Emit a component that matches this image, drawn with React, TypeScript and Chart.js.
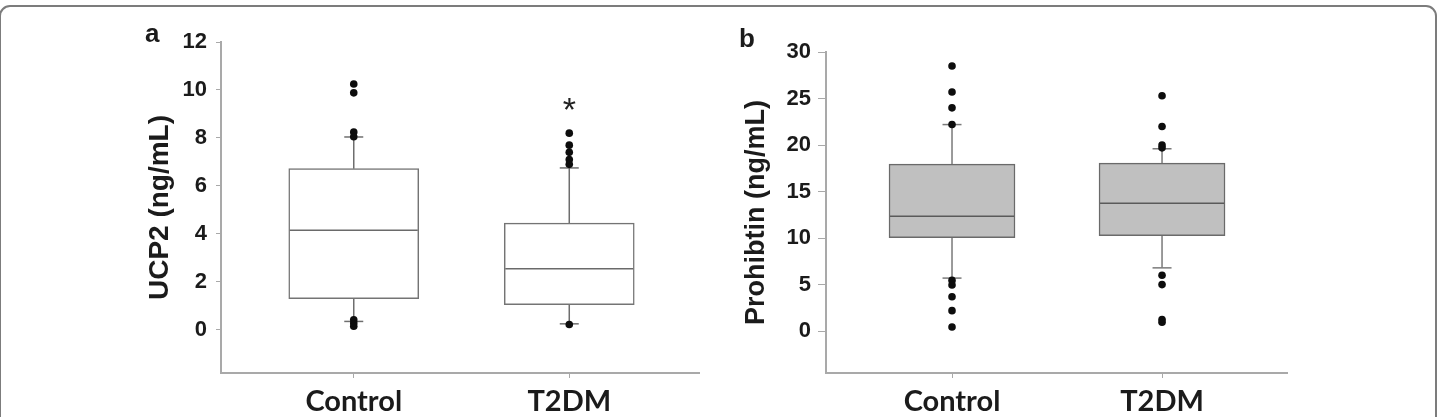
import React, { useEffect, useRef } from 'react';
import { Chart, registerables } from 'chart.js';

Chart.register(...registerables);

// ---------- shared ----------
const categories = ['Control', 'T2DM'];
const categoryX = [1, 2];

// ---------- panel a : UCP2 ----------
const ucp2Q1 = [1.3, 1.05];
const ucp2Median = [4.15, 2.55];
const ucp2Q3 = [6.72, 4.45];
const ucp2WhiskerLow = [0.35, 0.25];
const ucp2WhiskerHigh = [8.04, 6.75];
const ucp2OutliersControl = [10.25, 9.88, 8.25, 8.05, 0.42, 0.28, 0.15];
const ucp2OutliersT2DM = [8.2, 7.7, 7.4, 7.1, 6.9, 0.22];
const ucp2YTicks = [0, 2, 4, 6, 8, 10, 12];
const ucp2YRange = [-1.8, 12];
const ucp2Significance = [{ category: 2, y: 9.5, text: '*' }];

// ---------- panel b : Prohibtin ----------
const prohibQ1 = [10.05, 10.25];
const prohibMedian = [12.35, 13.75];
const prohibQ3 = [17.95, 18.05];
const prohibWhiskerLow = [5.7, 6.8];
const prohibWhiskerHigh = [22.2, 19.6];
const prohibOutliersControl = [28.5, 25.7, 24.0, 22.2, 5.45, 4.95, 3.7, 2.2, 0.45];
const prohibOutliersT2DM = [25.3, 22.0, 20.0, 19.7, 6.0, 5.0, 1.25, 0.95];
const prohibYTicks = [0, 5, 10, 15, 20, 25, 30];
const prohibYRange = [-4.5, 30];
const prohibSignificance: { category: number; y: number; text: string }[] = [];

type PanelCfg = {
  left: number;
  width: number;
  q1: number[];
  median: number[];
  q3: number[];
  lo: number[];
  hi: number[];
  outliers: number[][];
  yTicks: number[];
  yRange: number[];
  xRange: number[];
  sig: { category: number; y: number; text: string }[];
  title: string;
  titleSize: number;
  boxFill: string;
  boxBorder: string;
  medianColor: string;
  whiskerColor: string;
  boxPx: number;
  padding: { top: number; right: number; bottom: number; left: number };
  yAxisWidth: number;
  titleOffset: number;
  yTickLength: number;
  yTickPadding: number;
};

const AXIS_COLOR = '#a9a9a9';
const TEXT_COLOR = '#1b1b1b';

const panels: PanelCfg[] = [
  {
    left: 0,
    width: 720,
    q1: ucp2Q1,
    median: ucp2Median,
    q3: ucp2Q3,
    lo: ucp2WhiskerLow,
    hi: ucp2WhiskerHigh,
    outliers: [ucp2OutliersControl, ucp2OutliersT2DM],
    yTicks: ucp2YTicks,
    yRange: ucp2YRange,
    xRange: [0.384, 2.602],
    sig: ucp2Significance,
    title: 'UCP2 (ng/mL)',
    titleSize: 28,
    boxFill: '#ffffff',
    boxBorder: '#747474',
    medianColor: '#6a6a6a',
    whiskerColor: '#6e6e6e',
    boxPx: 130,
    padding: { top: 42, right: 21, bottom: 0, left: 0 },
    yAxisWidth: 221,
    titleOffset: 160,
    yTickLength: 5,
    yTickPadding: 9,
  },
  {
    left: 720,
    width: 720,
    q1: prohibQ1,
    median: prohibMedian,
    q3: prohibQ3,
    lo: prohibWhiskerLow,
    hi: prohibWhiskerHigh,
    outliers: [prohibOutliersControl, prohibOutliersT2DM],
    yTicks: prohibYTicks,
    yRange: prohibYRange,
    xRange: [0.4, 2.595],
    sig: prohibSignificance,
    title: 'Prohibtin (ng/mL)',
    titleSize: 27,
    boxFill: '#c0c0c0',
    boxBorder: '#6a6a6a',
    medianColor: '#5a5a5a',
    whiskerColor: '#7a7a7a',
    boxPx: 126,
    padding: { top: 52, right: 153, bottom: 0, left: 0 },
    yAxisWidth: 106,
    titleOffset: 37,
    yTickLength: 8,
    yTickPadding: 7,
  },
];

const CANVAS_H = 417;
const X_AXIS_H = 44;

const significancePlugin = {
  id: 'significance',
  afterDatasetsDraw(chart: any, _args: any, opts: any) {
    const items = opts && opts.items ? opts.items : [];
    const ctx = chart.ctx;
    const xs = chart.scales.x;
    const ys = chart.scales.y;
    ctx.save();
    ctx.fillStyle = '#222';
    ctx.font = '34px "Liberation Sans", Arial, sans-serif';
    ctx.textAlign = 'center';
    ctx.textBaseline = 'alphabetic';
    items.forEach((it: any) => {
      const px = xs.getPixelForValue(it.category);
      const py = ys.getPixelForValue(it.y);
      ctx.fillText(it.text, px, py + 19);
    });
    ctx.restore();
  },
};

function BoxPanel({ cfg }: { cfg: PanelCfg }) {
  const ref = useRef<HTMLCanvasElement>(null);

  useEffect(() => {
    if (!ref.current) return;
    const boxData = categoryX.map((x, i) => ({ x, y: [cfg.q1[i], cfg.q3[i]] }));
    const medianData = categoryX.map((x, i) => ({ x, y: cfg.median[i] }));
    const whiskerData: any[] = [];
    categoryX.forEach((x, i) => {
      whiskerData.push({ x, y: cfg.q3[i] }, { x, y: cfg.hi[i] }, { x, y: null });
      whiskerData.push({ x, y: cfg.q1[i] }, { x, y: cfg.lo[i] }, { x, y: null });
    });
    const capData: any[] = [];
    categoryX.forEach((x, i) => {
      capData.push({ x, y: cfg.hi[i] }, { x, y: cfg.lo[i] });
    });
    const outlierData: any[] = [];
    categoryX.forEach((x, i) => {
      cfg.outliers[i].forEach((v) => outlierData.push({ x, y: v }));
    });

    const chart = new Chart(ref.current, {
      type: 'bar',
      data: {
        datasets: [
          {
            type: 'line',
            label: 'whiskers',
            data: whiskerData,
            borderColor: cfg.whiskerColor,
            borderWidth: 1.5,
            pointRadius: 0,
            spanGaps: false,
            order: 4,
          } as any,
          {
            type: 'bar',
            label: 'box',
            data: boxData,
            backgroundColor: cfg.boxFill,
            borderColor: cfg.boxBorder,
            borderWidth: 1.5,
            borderSkipped: false,
            barThickness: cfg.boxPx,
            grouped: false,
            order: 3,
          } as any,
          {
            type: 'scatter',
            label: 'median',
            data: medianData,
            pointStyle: 'line',
            pointRadius: cfg.boxPx / 2 - 1,
            borderColor: cfg.medianColor,
            borderWidth: 1.5,
            order: 2,
          } as any,
          {
            type: 'scatter',
            label: 'caps',
            data: capData,
            pointStyle: 'line',
            pointRadius: 9.5,
            borderColor: cfg.whiskerColor,
            borderWidth: 1.5,
            order: 2,
          } as any,
          {
            type: 'scatter',
            label: 'outliers',
            data: outlierData,
            pointStyle: 'circle',
            pointRadius: 3.8,
            backgroundColor: '#0d0d0d',
            borderColor: '#0d0d0d',
            borderWidth: 0,
            order: 1,
          } as any,
        ],
      },
      options: {
        animation: false,
        responsive: false,
        maintainAspectRatio: false,
        layout: { padding: cfg.padding, autoPadding: false },
        plugins: {
          legend: { display: false },
          tooltip: { enabled: false },
          significance: { items: cfg.sig },
        } as any,
        scales: {
          x: {
            type: 'linear',
            min: cfg.xRange[0],
            max: cfg.xRange[1],
            offset: false,
            afterBuildTicks: (scale: any) => {
              scale.ticks = categoryX.map((v) => ({ value: v }));
            },
            afterFit: (scale: any) => {
              scale.height = X_AXIS_H;
            },
            ticks: {
              autoSkip: false,
              maxRotation: 0,
              padding: 6,
              color: TEXT_COLOR,
              font: { family: 'Lato, "Open Sans", sans-serif', size: 29, weight: 'bold' },
              callback: (v: any) => {
                const idx = categoryX.indexOf(Number(v));
                return idx >= 0 ? categories[idx] : '';
              },
            },
            grid: {
              display: true,
              offset: false,
              drawOnChartArea: false,
              drawTicks: true,
              tickLength: 5,
              color: AXIS_COLOR,
              lineWidth: 1,
            },
            border: { display: true, color: AXIS_COLOR, width: 2 },
          },
          y: {
            type: 'linear',
            min: cfg.yRange[0],
            max: cfg.yRange[1],
            afterBuildTicks: (scale: any) => {
              scale.ticks = cfg.yTicks.map((v) => ({ value: v }));
            },
            afterFit: (scale: any) => {
              scale.width = cfg.yAxisWidth;
            },
            ticks: {
              padding: cfg.yTickPadding,
              color: TEXT_COLOR,
              font: { family: '"Liberation Sans", Arial, sans-serif', size: 22, weight: 'bold' },
              callback: (v: any) => String(v),
            },
            grid: {
              display: true,
              offset: false,
              drawOnChartArea: false,
              drawTicks: true,
              tickLength: cfg.yTickLength,
              color: AXIS_COLOR,
              lineWidth: 1,
            },
            border: { display: true, color: AXIS_COLOR, width: 2 },
            title: {
              display: true,
              text: cfg.title,
              color: TEXT_COLOR,
              font: { family: '"Liberation Sans", Arial, sans-serif', size: cfg.titleSize, weight: 'bold', lineHeight: 1.2 },
              padding: { top: cfg.titleOffset - cfg.titleSize * 0.6, bottom: 0 },
            },
          },
        },
      } as any,
      plugins: [significancePlugin],
    });
    return () => chart.destroy();
  }, [cfg]);

  return (
    <canvas
      ref={ref}
      width={cfg.width}
      height={CANVAS_H}
      style={{ position: 'absolute', left: cfg.left, top: 0, width: cfg.width, height: CANVAS_H }}
    />
  );
}

const panelLabels = [
  { text: 'a', left: 145, top: 20 },
  { text: 'b', left: 739, top: 25 },
];

export default function App() {
  return (
    <div
      style={{
        position: 'fixed',
        left: 0,
        top: 0,
        width: 1440,
        height: 417,
        overflow: 'hidden',
        background: '#ffffff',
      }}
    >
      <div
        style={{
          position: 'absolute',
          left: -1,
          top: 5,
          width: 1438,
          height: 470,
          border: '2px solid #7c7c7c',
          borderRadius: 11,
          boxSizing: 'border-box',
        }}
      />
      {panels.map((p, i) => (
        <BoxPanel key={i} cfg={p} />
      ))}
      {panelLabels.map((l) => (
        <div
          key={l.text}
          style={{
            position: 'absolute',
            left: l.left,
            top: l.top,
            fontFamily: '"Liberation Sans", Arial, sans-serif',
            fontWeight: 'bold',
            fontSize: 26,
            lineHeight: '26px',
            color: TEXT_COLOR,
          }}
        >
          {l.text}
        </div>
      ))}
    </div>
  );
}
